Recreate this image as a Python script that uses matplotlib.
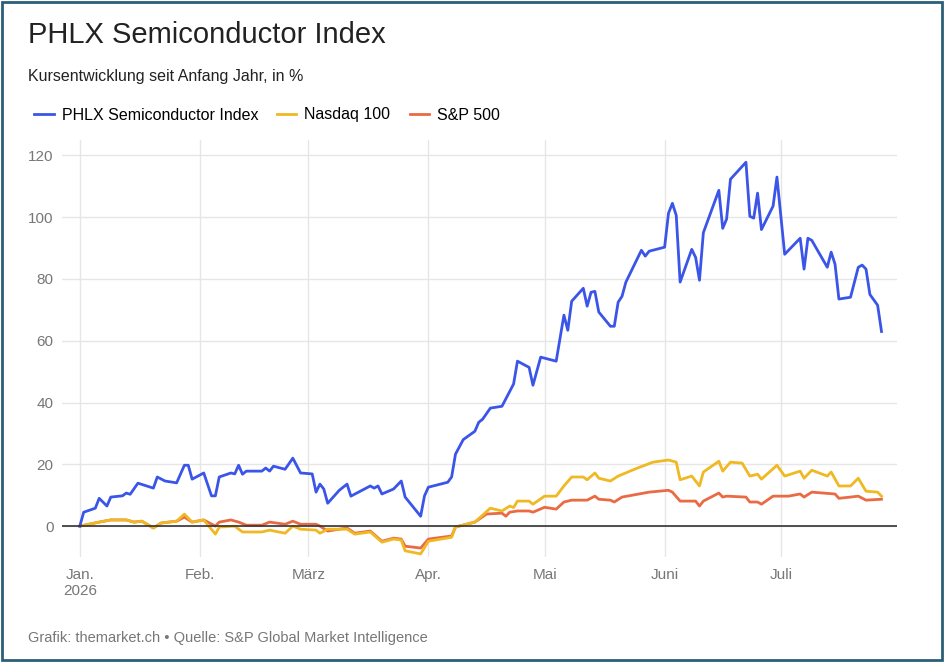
import numpy as np
import pandas as pd
import matplotlib.pyplot as plt
from matplotlib.lines import Line2D

# days since 1 Jan 2026, percent change since start of year
sox_days = [0, 1, 4, 5, 7, 8, 11, 12, 13, 15, 19, 20, 22, 25, 27, 28, 29, 32, 34, 35,
            36, 39, 40, 41, 42, 43, 47, 48, 49, 50, 53, 55, 57, 60, 61, 62, 63, 64, 67, 69,
            70, 75, 76, 77, 78, 81, 83, 84, 88, 89, 90, 95, 96, 97, 99, 102, 103,
            104, 106, 109, 112, 113, 116, 117, 119, 123, 125, 126, 127, 130, 131, 132,
            133, 134, 137, 138, 139, 140, 141, 145, 146, 147, 151, 152, 153, 154, 155,
            158, 159, 160, 161, 165, 166, 167, 168, 172, 173, 174, 175, 176, 179, 180,
            182, 186, 187, 188, 189, 193, 194, 195, 196, 199, 201, 202, 203, 204, 206, 207]
sox_vals = [0, 4.5, 5.8, 9, 6.5, 9.4, 9.8, 10.7, 10.3, 13.9, 12.3, 15.9, 14.6, 14, 19.7,
            19.7, 15.2, 17.2, 9.8, 9.8, 15.9, 17.2, 16.9, 19.7, 16.8, 17.8, 17.8, 18.8, 17.8,
            19.4, 18.4, 22, 17.2, 16.9, 11, 13.6, 12, 7.4, 11.6, 13.6, 9.7, 13, 12.3, 13,
            10.4, 12, 14.6, 9.4, 3.2, 9.8, 12.6, 14.2, 15.9, 23.3, 28, 30.7, 33.6,
            34.6, 38.2, 38.8, 46, 53.4, 51.4, 45.6, 54.7, 53.4, 68.3, 63.4, 72.8, 77, 71.2,
            75.7, 76, 69.3, 64.7, 64.7, 72.5, 74.4, 79, 89.3, 87.4, 89, 90.3, 101.3, 104.5,
            100.6, 79, 89.6, 87, 79.6, 95, 108.7, 96.4, 99.4, 112.3, 117.8, 100.3, 99.7,
            107.8, 96, 103.6, 113, 88, 93.2, 83.2, 93.2, 92.5, 83.8, 88.7, 84.8, 73.5, 74.1,
            83.8, 84.5, 83.2, 75, 71.5, 63]

ndx_days = [0, 5, 8, 12, 14, 16, 19, 21, 25, 27, 29, 32, 35, 36, 40, 42, 47, 49, 53, 55,
            57, 61, 62, 64, 69, 71, 75, 78, 81, 83, 84, 88, 90, 96, 97, 102, 106, 109, 111,
            112, 113, 116, 117, 120, 123, 125, 127, 130, 131, 133, 134, 137, 139, 144, 148,
            152, 154, 155, 158, 160, 161, 165, 166, 168, 171, 173, 175, 176, 180, 182, 186,
            187, 189, 193, 194, 196, 199, 201, 203, 206, 207]
ndx_vals = [0, 1.3, 2, 2, 1.3, 1.6, -0.6, 1, 1.6, 3.9, 1.3, 2, -2.6, -0.3, 0, -1.9, -1.9,
            -1.3, -2.3, 0, -1, -1.3, -2.3, -1.0, -1.0, -2.6, -1.9, -5.2, -4.2, -4.5, -8, -9,
            -4.9, -3.6, -0.3, 1.3, 5.8, 4.9, 6.5, 6, 8.1, 8.1, 7.1, 9.7, 9.7, 13, 15.9, 15.9,
            15, 17.2, 15.5, 14.6, 16.2, 18.8, 20.7, 21.4, 20.7, 15, 16.2, 13, 17.5, 21, 17.8,
            20.7, 20.4, 16.2, 16.8, 15.2, 19.7, 16.2, 17.8, 15.5, 18.1, 16.2, 17.5, 13, 13,
            15.5, 11.3, 11, 9.7]

spx_days = [0, 5, 8, 12, 14, 16, 19, 21, 25, 27, 29, 32, 35, 36, 39, 41, 43, 47, 49, 53,
            55, 57, 61, 62, 64, 69, 71, 75, 78, 81, 83, 84, 88, 90, 96, 97, 102, 105, 109,
            110, 111, 113, 116, 117, 120, 123, 125, 127, 131, 133, 134, 137, 138, 140, 147,
            152, 153, 155, 159, 160, 161, 165, 166, 167, 172, 173, 175, 176, 179, 183, 186,
            187, 189, 195, 196, 199, 201, 203, 207]
spx_vals = [0, 1.3, 2, 2, 1.3, 1.6, -0.6, 1, 1.6, 2.9, 1.3, 2, 0, 1.3, 2, 1.3, 0.3, 0.3,
            1.3, 0.6, 1.6, 0.6, 0.6, 0, -1.6, -0.6, -2.3, -1.6, -4.9, -3.9, -4.2, -6.5, -7.1,
            -4.2, -3.2, -0.3, 1.3, 3.9, 4.2, 3.2, 4.5, 4.9, 4.9, 4.5, 6.1, 5.5, 7.8, 8.4, 8.4,
            9.7, 8.7, 8.4, 7.8, 9.4, 11, 11.6, 11, 8.1, 8.1, 6.5, 8.1, 10.7, 9.4, 9.7, 9.4,
            7.8, 7.8, 7.1, 9.7, 9.7, 10.4, 9.4, 11, 10.4, 9, 9.4, 9.7, 8.4, 8.7]

series = [
    ('PHLX Semiconductor Index', sox_days, sox_vals, '#3a55e8'),
    ('Nasdaq 100', ndx_days, ndx_vals, '#f0b823'),
    ('S&P 500', spx_days, spx_vals, '#ea6a43'),
]
month_labels = ['Jan.\n2026', 'Feb.', 'März', 'Apr.', 'Mai', 'Juni', 'Juli']

start = pd.Timestamp('2026-01-01')
months = pd.date_range('2026-01-01', periods=7, freq='MS')

plt.rcParams['font.family'] = ['Liberation Sans', 'DejaVu Sans']
fig = plt.figure(figsize=(9.44, 6.62), dpi=100)
ax = fig.add_axes([62 / 944, 1 - 557 / 662, (897 - 62) / 944, (557 - 140) / 662])

for name, days, vals, col in series[::-1]:
    dates = start + pd.to_timedelta(days, unit='D')
    ax.plot(dates, vals, color=col, lw=2, zorder=3 if col == '#3a55e8' else 2)

ax.axhline(0, color='#333333', lw=1.2, zorder=4)
ax.set_ylim(-10, 125)
ax.set_xlim(start - pd.Timedelta(days=4.6), start + pd.Timedelta(days=211))
ax.set_yticks(range(0, 121, 20))
ax.set_xticks(months)
ax.set_xticklabels(month_labels, ha='center')
ax.grid(True, color='#e6e6e6', lw=1)
ax.set_axisbelow(True)
for s in ax.spines.values():
    s.set_visible(False)
ax.tick_params(length=0, colors='#777777', labelsize=11)
ax.tick_params(axis='x', pad=8)
ax.yaxis.set_tick_params(pad=6)

fig.text(28 / 944, 1 - 35 / 662, 'PHLX Semiconductor Index', fontsize=21, va='center', color='#222222')
fig.text(28 / 944, 1 - 77 / 662, 'Kursentwicklung seit Anfang Jahr, in %', fontsize=11.5, va='center', color='#222222')
handles = [Line2D([], [], color=c, lw=2) for _, _, _, c in series]
fig.legend(handles, [n for n, _, _, _ in series], loc='center left', bbox_to_anchor=(20 / 944, 1 - 115 / 662),
           ncol=3, frameon=False, fontsize=11.5, handlelength=1.2, handletextpad=0.5, columnspacing=1.2)
fig.text(28 / 944, 1 - 638 / 662, 'Grafik: themarket.ch • Quelle: S&P Global Market Intelligence',
         fontsize=10.5, va='center', color='#777777')

fig.patches.append(plt.Rectangle((0.002, 0.003), 0.996, 0.994, transform=fig.transFigure,
                                 fill=False, edgecolor='#2b5f78', lw=2))
fig.savefig('out.png', dpi=100)
